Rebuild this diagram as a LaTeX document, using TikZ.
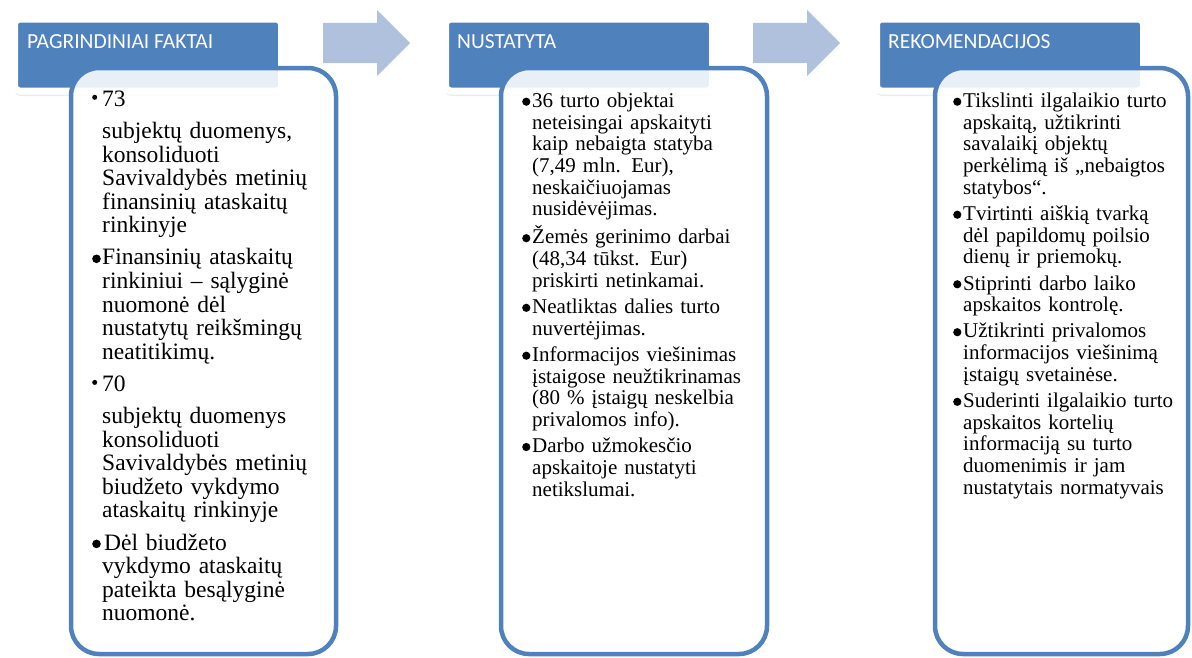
\documentclass[tikz,border=0pt]{standalone}
\usepackage{fontspec}
\setmainfont{Liberation Serif}
\newfontfamily\hdrfont{Carlito}
\usepackage{xcolor}
\usepackage{tikz}
\usetikzlibrary{positioning}
\usetikzlibrary{shapes.arrows,shadows}
\definecolor{hdrblue}{RGB}{79,129,189}
\definecolor{arrblue}{RGB}{176,193,222}
\tikzset{hdr/.style = {rectangle,rounded corners=5pt,fill=hdrblue,draw=white,line width=7pt,
    minimum width=267pt,minimum height=72pt,inner sep=0pt,
    drop shadow={shadow xshift=0pt,shadow yshift=-5pt,opacity=.15}}}

\newlength{\bulrad}\newlength{\bulrise}
\newcommand{\bigbul}{\raisebox{\bulrise}{\tikz\fill (0pt,0pt) circle (\bulrad);}}
\newcommand{\smallbul}{\raisebox{6.5pt}{\tikz\fill (0pt,0pt) circle (2.5pt);}}
\newcommand{\bitem}{\par\hangindent=10pt\hangafter=1\noindent\strut\makebox[10pt][l]{\bigbul}}
\newcommand{\sitem}{\par\noindent\strut\makebox[10pt][l]{\smallbul}}
\newcommand{\cont}{\par\hangindent=10pt\hangafter=0\noindent\strut}

\begin{document}
\begin{tikzpicture}[x=1pt,y=-1pt,
    htext/.style={anchor=base west,inner sep=0pt,text=white,font=\hdrfont\fontsize{21.5}{25}\selectfont},
    blockarrow/.style={single arrow,fill=arrblue,anchor=tail,minimum height=87pt,minimum width=66pt,
        inner xsep=0pt,inner ysep=20pt,single arrow head extend=13pt,single arrow tip angle=90},
    panel/.style={rectangle,rounded corners=28pt,draw=hdrblue,line width=4.5pt,fill=white,
        fill opacity=.88,minimum height=586pt,inner sep=0pt},
    body/.style={anchor=north west,inner sep=0pt,text width=#1,align=left}]
\useasboundingbox (0,0) rectangle (1192,657);

% header boxes
\node[hdr] (h1) at (148,55) {};
\node[hdr] (h2) [right=157pt of h1] {};
\node[hdr] (h3) [right=157pt of h2] {};
\node[htext] (h1t) at (27,48) {PAGRINDINIAI FAKTAI};
\node[htext] (h2t) at (457,48) {NUSTATYTA};
\node[htext] (h3t) at (888,48) {REKOMENDACIJOS};

% arrows between the steps
\node[blockarrow] (a1) at (323,43) {};
\node[blockarrow] (a2) at (753,43) {};

% content panels
\node[panel,minimum width=265pt] (c1) at (203.5,361) {};
\node[panel,minimum width=266pt] (c2) at (634,361) {};
\node[panel,minimum width=253pt] (c3) at (1061.5,361) {};

\node[body=240pt,font=\fontsize{23.5}{23.6}\selectfont,
    execute at begin node={\setlength{\parindent}{0pt}\setlength{\parskip}{8.5pt}\setlength{\bulrad}{4.3pt}\setlength{\bulrise}{1.8pt}}] (t1) at (92,74) {%
\sitem 73
\cont subjektų duomenys,\newline konsoliduoti\newline Savivaldybės metinių\newline finansinių ataskaitų\newline rinkinyje
\bitem Finansinių ataskaitų\newline rinkiniui – sąlyginė\newline nuomonė dėl\newline nustatytų reikšmingų\newline neatitikimų.
\sitem 70
\cont subjektų duomenys\newline konsoliduoti\newline Savivaldybės metinių\newline biudžeto vykdymo\newline ataskaitų rinkinyje
\bitem\hspace{2pt}Dėl biudžeto\newline vykdymo ataskaitų\newline pateikta besąlyginė\newline nuomonė.\par};

\node[body=240pt,font=\fontsize{21}{21.7}\selectfont,
    execute at begin node={\setlength{\parindent}{0pt}\setlength{\parskip}{4.5pt}\setlength{\bulrad}{4.1pt}\setlength{\bulrise}{1.6pt}}] (t2) at (522,81) {%
\bitem 36 turto objektai\newline neteisingai apskaityti\newline kaip nebaigta statyba\newline (7,49 mln. Eur),\newline neskaičiuojamas\newline nusidėvėjimas.
\bitem Žemės gerinimo darbai\newline (48,34 tūkst. Eur)\newline priskirti netinkamai.
\bitem Neatliktas dalies turto\newline nuvertėjimas.
\bitem Informacijos viešinimas\newline įstaigose neužtikrinamas\newline (80 \% įstaigų neskelbia\newline privalomos info).
\bitem Darbo užmokesčio\newline apskaitoje nustatyti\newline netikslumai.\par};

\node[body=232pt,font=\fontsize{21}{21.7}\selectfont,
    execute at begin node={\setlength{\parindent}{0pt}\setlength{\parskip}{4.5pt}\setlength{\bulrad}{4.1pt}\setlength{\bulrise}{1.6pt}}] (t3) at (953,81) {%
\bitem Tikslinti ilgalaikio turto\newline apskaitą, užtikrinti\newline savalaikį objektų\newline perkėlimą iš „nebaigtos\newline statybos“.
\bitem Tvirtinti aiškią tvarką\newline dėl papildomų poilsio\newline dienų ir priemokų.
\bitem Stiprinti darbo laiko\newline apskaitos kontrolę.
\bitem Užtikrinti privalomos\newline informacijos viešinimą\newline įstaigų svetainėse.
\bitem Suderinti ilgalaikio turto\newline apskaitos kortelių\newline informaciją su turto\newline duomenimis ir jam\newline nustatytais normatyvais\par};
\end{tikzpicture}
\end{document}
